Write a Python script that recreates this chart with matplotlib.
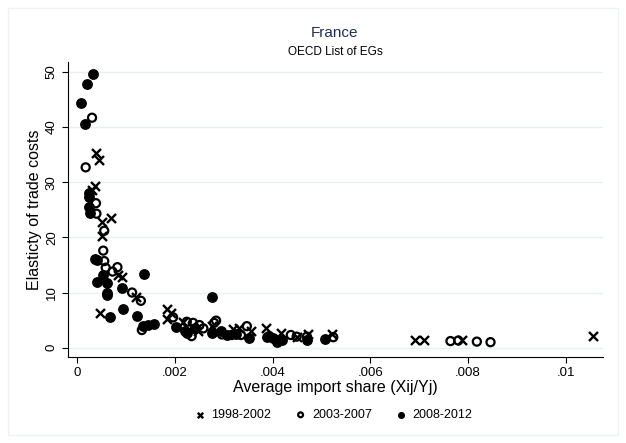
import numpy as np
import matplotlib.pyplot as plt
from matplotlib.patches import Rectangle

plt.rcParams['font.family'] = ['Liberation Sans', 'DejaVu Sans']

# 1998-2002 (cruces)
x_9802 = [0.00038, 0.00045, 0.00036, 0.00029, 0.0005, 0.00068, 0.0005, 0.00084, 0.00091,
          0.0012, 0.00046, 0.00183, 0.00191, 0.00184, 0.00216, 0.00234, 0.00246, 0.00275,
          0.00319, 0.0033, 0.00355, 0.00386, 0.00416, 0.0045, 0.00473, 0.00521, 0.00691,
          0.0071, 0.00787, 0.01056]
y_9802 = [35.3, 34.1, 29.3, 28.6, 22.7, 23.5, 20.2, 13.2, 12.9,
          9.2, 6.2, 7.0, 6.3, 5.2, 4.6, 3.9, 3.1, 3.9,
          3.3, 3.5, 3.1, 3.5, 2.7, 2.0, 2.5, 2.4, 1.4,
          1.4, 1.4, 2.2]

# 2003-2007 (circulos vacios)
x_0307 = [0.0003, 0.00017, 0.00038, 0.00039, 0.00055, 0.00053, 0.00055, 0.00058, 0.00082,
          0.00072, 0.00112, 0.0013, 0.00132, 0.00196, 0.00224, 0.00234, 0.00237, 0.0025,
          0.00258, 0.0028, 0.00284, 0.00296, 0.00316, 0.00335, 0.00347, 0.00393, 0.00437,
          0.00449, 0.0047, 0.00524, 0.00764, 0.0078, 0.00818, 0.00846]
y_0307 = [41.7, 32.7, 26.2, 24.3, 21.2, 17.6, 15.7, 14.5, 14.6,
          13.8, 10.0, 8.5, 3.2, 5.5, 4.7, 2.1, 4.5, 4.1,
          3.5, 4.5, 4.9, 2.4, 2.3, 2.3, 3.9, 2.1, 2.3,
          2.0, 2.0, 1.9, 1.2, 1.3, 1.1, 1.0]

# 2008-2012 (circulos llenos)
x_0812 = [0.00007, 0.00019, 0.00032, 0.00016, 0.00023, 0.00023, 0.00024, 0.00026, 0.00036,
          0.00041, 0.00053, 0.00041, 0.0006, 0.00137, 0.00091, 0.0006, 0.00061, 0.00066,
          0.00094, 0.00122, 0.00135, 0.00145, 0.00156, 0.00202, 0.00275, 0.0022, 0.00225,
          0.00241, 0.00275, 0.00294, 0.00306, 0.00325, 0.00352, 0.00389, 0.004, 0.00409,
          0.00418, 0.0047, 0.00507]
y_0812 = [44.4, 47.9, 49.6, 40.6, 28.0, 27.4, 25.5, 24.4, 16.1,
          15.9, 13.2, 12.0, 11.8, 13.4, 10.8, 9.9, 9.6, 5.5,
          7.1, 5.7, 3.9, 4.1, 4.3, 3.7, 9.1, 3.1, 2.7,
          3.5, 2.6, 3.1, 2.3, 2.5, 1.7, 1.9, 1.7, 1.1,
          1.4, 1.4, 1.5]

x_ticks = [0, 0.002, 0.004, 0.006, 0.008, 0.01]
x_labels = ['0', '.002', '.004', '.006', '.008', '.01']
y_ticks = [0, 10, 20, 30, 40, 50]

fig = plt.figure(figsize=(6.26, 4.43), dpi=100)
fig.patches.append(Rectangle((8 / 626, 8 / 443), 610 / 626, 427 / 443, transform=fig.transFigure,
                             fill=False, edgecolor='#eef2f2', linewidth=1))
ax = fig.add_axes([0.108, 0.194, 0.855, 0.666])

ax.scatter(x_9802, y_9802, marker='x', s=42, color='black', linewidths=1.7, label='1998-2002', zorder=3)
ax.scatter(x_0307, y_0307, marker='o', s=34, facecolors='none', edgecolors='black', linewidths=1.6,
           label='2003-2007', zorder=3)
ax.scatter(x_0812, y_0812, marker='o', s=46, color='black', label='2008-2012', zorder=3)

ax.set_xlim(-0.0002, 0.01076)
ax.set_ylim(-1.7, 51.8)
ax.set_xticks(x_ticks)
ax.set_xticklabels(x_labels)
ax.set_yticks(y_ticks)
ax.tick_params(axis='y', labelrotation=90, labelsize=9.5, direction='out', length=4, width=0.8, pad=3)
ax.tick_params(axis='x', labelsize=9.5, direction='out', length=4, width=0.8, pad=3)
for lab in ax.get_yticklabels():
    lab.set_va('center')
ax.grid(axis='y', color='#e8f0f1', linewidth=1)
ax.set_axisbelow(True)
for s in ['top', 'right']:
    ax.spines[s].set_visible(False)
ax.spines['left'].set_linewidth(0.8)
ax.spines['bottom'].set_linewidth(0.8)

ax.set_xlabel('Average import share (Xij/Yj)', fontsize=11.5, labelpad=1)
ax.set_ylabel('Elasticty of trade costs', fontsize=11.5, labelpad=3)

fig.text(0.535, 0.925, 'France', ha='center', va='center', fontsize=11, color='#1e2d5a')
fig.text(0.535, 0.883, 'OECD List of EGs', ha='center', va='center', fontsize=8.5)

fig.legend(loc='center', bbox_to_anchor=(0.53, 0.063), ncol=3, frameon=False, fontsize=9,
           handletextpad=0.2, handlelength=1.4, columnspacing=1.65, markerscale=0.6)

plt.savefig('out.png', dpi=100)
